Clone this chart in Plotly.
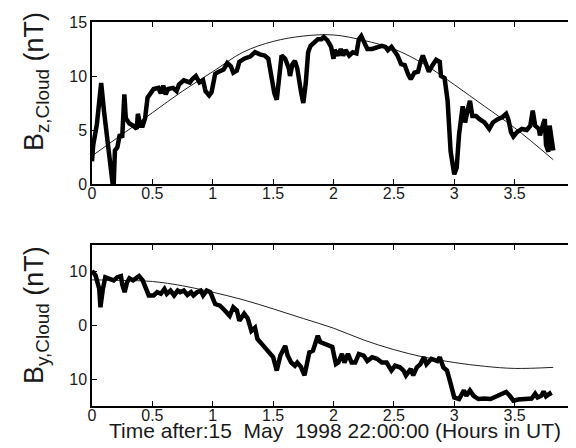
import plotly.graph_objects as go

# ---- Top panel: Bz,Cloud ----
bz_t = [0.00, 0.01, 0.04, 0.076, 0.10, 0.13, 0.16, 0.17, 0.18, 0.19, 0.21, 0.23, 0.25, 0.268, 0.28, 0.31,
        0.34, 0.37, 0.38, 0.40, 0.42, 0.44, 0.46, 0.49, 0.51, 0.55, 0.57, 0.59, 0.61, 0.63, 0.67, 0.70,
        0.72, 0.76, 0.81, 0.83, 0.86, 0.89, 0.92, 0.94, 0.97, 0.99, 1.02, 1.05, 1.09, 1.12, 1.15, 1.17,
        1.20, 1.22, 1.26, 1.31, 1.35, 1.39, 1.43, 1.46, 1.48, 1.51, 1.53, 1.55, 1.57, 1.60, 1.63, 1.64,
        1.66, 1.68, 1.70, 1.73, 1.75, 1.77, 1.79, 1.81, 1.84, 1.87, 1.90, 1.92, 1.95, 1.98, 2.00, 2.01,
        2.04, 2.06, 2.08, 2.10, 2.13, 2.16, 2.19, 2.21, 2.23, 2.25, 2.28, 2.32, 2.36, 2.40, 2.43, 2.45,
        2.48, 2.51, 2.53, 2.56, 2.59, 2.62, 2.64, 2.67, 2.70, 2.72, 2.74, 2.77, 2.79, 2.82, 2.85, 2.88,
        2.89, 2.92, 2.945, 2.97, 3.00, 3.02, 3.04, 3.07, 3.09, 3.11, 3.13, 3.15, 3.18, 3.21, 3.25, 3.29,
        3.32, 3.36, 3.40, 3.43, 3.45, 3.47, 3.49, 3.52, 3.56, 3.60, 3.63, 3.65, 3.67, 3.70, 3.71, 3.74,
        3.75, 3.76, 3.78, 3.79, 3.80, 3.82]
bz_v = [2.1, 3.6, 5.5, 9.35, 6.7, 3.6, 1.2, 0.1, 0.1, 3.1, 3.4, 4.6, 4.3, 8.3, 6.1, 5.6,
        5.4, 5.1, 6.5, 5.4, 5.4, 6.1, 8.0, 8.4, 8.8, 8.9, 8.4, 9.1, 8.3, 8.8, 8.9, 8.6,
        9.2, 9.6, 9.4, 9.7, 10.0, 9.4, 9.6, 8.6, 8.2, 8.5, 10.2, 10.4, 10.6, 11.2, 10.9, 10.3,
        10.5, 11.3, 11.6, 11.8, 12.2, 12.0, 11.9, 11.6, 10.4, 8.4, 7.8, 10.3, 11.9, 11.6, 10.7, 10.0,
        11.1, 11.4, 10.7, 8.6, 7.5, 9.3, 12.2, 12.8, 13.1, 13.4, 13.4, 13.6, 13.3, 12.7, 11.6, 12.4,
        11.9, 12.5, 11.9, 12.4, 11.9, 12.2, 12.1, 13.4, 13.7, 13.1, 12.5, 12.5, 12.7, 12.8, 12.7, 12.4,
        12.7, 12.2, 11.9, 11.1, 11.0, 10.1, 9.7, 10.3, 10.4, 11.3, 11.9, 11.0, 10.4, 11.0, 11.5, 11.3,
        10.0, 9.8, 7.7, 3.0, 0.9, 1.5, 4.6, 7.2, 5.7, 6.8, 7.7, 6.3, 6.3, 6.0, 5.7, 5.1,
        5.7, 6.0, 6.2, 6.5, 5.9, 4.8, 4.4, 4.8, 5.1, 5.0, 5.4, 6.8, 5.4, 5.1, 4.5, 5.7,
        6.0, 3.6, 3.0, 5.4, 4.5, 3.1]

fit_t = [0, 0.25, 0.5, 0.75, 1.0, 1.25, 1.5, 1.75, 2.0, 2.25, 2.5, 2.75, 3.0, 3.25, 3.5, 3.82]
bz_fit = [2.6, 4.6, 6.6, 8.6, 10.4, 12.2, 13.2, 13.7, 13.8, 13.3, 12.5, 11.1, 9.2, 7.2, 5.2, 2.25]

# ---- Bottom panel: By,Cloud ----
by_t = [0.00, 0.03, 0.06, 0.07, 0.09, 0.11, 0.145, 0.18, 0.21, 0.24, 0.25, 0.27, 0.29, 0.31, 0.34, 0.37,
        0.39, 0.42, 0.45, 0.47, 0.51, 0.54, 0.57, 0.60, 0.62, 0.65, 0.68, 0.71, 0.73, 0.76, 0.79, 0.82,
        0.84, 0.87, 0.90, 0.92, 0.95, 0.98, 1.02, 1.06, 1.10, 1.14, 1.17, 1.20, 1.22, 1.26, 1.29, 1.32,
        1.35, 1.37, 1.42, 1.46, 1.50, 1.53, 1.56, 1.60, 1.62, 1.65, 1.68, 1.70, 1.73, 1.76, 1.80, 1.83,
        1.87, 1.89, 1.93, 1.96, 1.99, 2.02, 2.04, 2.07, 2.09, 2.12, 2.15, 2.18, 2.21, 2.25, 2.28, 2.32,
        2.36, 2.40, 2.44, 2.48, 2.51, 2.55, 2.58, 2.60, 2.64, 2.66, 2.69, 2.72, 2.75, 2.77, 2.81, 2.86,
        2.88, 2.91, 2.94, 2.96, 2.99, 3.00, 3.04, 3.08, 3.10, 3.13, 3.16, 3.20, 3.25, 3.30, 3.36, 3.40,
        3.43, 3.46, 3.49, 3.53, 3.58, 3.64, 3.67, 3.69, 3.72, 3.74, 3.76, 3.79, 3.80]
by_v = [10.2, 9.3, 6.8, 3.4, 6.8, 9.0, 8.7, 8.4, 9.0, 9.2, 7.7, 6.2, 8.0, 8.8, 8.4, 8.8,
        9.2, 8.4, 6.8, 5.6, 5.6, 6.2, 5.9, 6.8, 5.9, 6.5, 5.6, 6.5, 6.2, 6.5, 5.7, 6.2,
        5.6, 6.2, 6.5, 5.6, 6.5, 6.2, 4.0, 3.7, 2.8, 1.8, 3.4, 2.8, 0.9, 2.2, 1.3, -1.0,
        -0.4, -2.5, -3.8, -5.0, -5.9, -8.4, -5.6, -3.8, -5.6, -6.9, -7.5, -6.9, -7.7, -9.3, -5.0, -4.7,
        -1.9, -3.1, -3.4, -3.8, -4.0, -7.2, -6.9, -5.3, -6.9, -5.3, -6.9, -6.9, -5.3, -5.6, -6.6, -5.9,
        -6.2, -6.9, -6.9, -8.4, -7.5, -7.8, -8.4, -9.3, -8.1, -9.3, -7.8, -7.2, -5.9, -7.2, -6.2, -6.6,
        -5.9, -7.8, -8.4, -10.0, -12.1, -13.4, -13.7, -12.1, -13.1, -12.1, -13.1, -13.7, -13.6, -13.7, -13.1, -12.7,
        -12.4, -13.1, -14.0, -13.8, -13.7, -13.6, -12.7, -13.4, -13.1, -12.3, -13.2, -12.7, -13.1]

by_fit = [8.5, 8.4, 8.2, 7.4, 6.2, 4.8, 3.1, 1.3, -0.5, -2.7, -4.5, -5.9, -6.9, -7.6, -8.0, -7.8]

x_ticks = [0, 0.5, 1, 1.5, 2, 2.5, 3, 3.5, 4]
bz_ticks = [0, 5, 10, 15]
by_tickvals = [-10, 0, 10]
by_ticktext = ["10", "0", "10"]

FONT = "Liberation Sans, Arial, sans-serif"
TXT = "#1a1a1a"

fig = go.Figure()
fig.add_trace(go.Scatter(x=fit_t, y=bz_fit, mode="lines", line=dict(color="#222", width=1, shape="spline"),
                         xaxis="x", yaxis="y", showlegend=False))
fig.add_trace(go.Scatter(x=bz_t, y=bz_v, mode="lines", line=dict(color="black", width=4.5),
                         xaxis="x", yaxis="y", showlegend=False))
fig.add_trace(go.Scatter(x=fit_t, y=by_fit, mode="lines", line=dict(color="#222", width=1, shape="spline"),
                         xaxis="x2", yaxis="y2", showlegend=False))
fig.add_trace(go.Scatter(x=by_t, y=by_v, mode="lines", line=dict(color="black", width=4.5),
                         xaxis="x2", yaxis="y2", showlegend=False))

axis_common = dict(showline=True, linecolor="black", linewidth=1.5, mirror="ticks", ticks="inside",
                   ticklen=5, tickwidth=1, tickcolor="black", showgrid=False, zeroline=False,
                   ticklabeloverflow="allow",
                   tickfont=dict(family=FONT, size=16, color=TXT))

fig.update_layout(
    width=576, height=448,
    margin=dict(l=84, r=4, t=14, b=50),
    paper_bgcolor="white", plot_bgcolor="white",
    xaxis=dict(domain=[0, 1], range=[0, 4], tickvals=x_ticks, anchor="y", ticklabelstandoff=-6, **axis_common),
    yaxis=dict(domain=[0.5781, 1], range=[0, 15], tickvals=bz_ticks, anchor="x", **axis_common),
    xaxis2=dict(domain=[0, 1], range=[0, 4], tickvals=x_ticks, anchor="y2", ticklabelstandoff=-6, **axis_common),
    yaxis2=dict(domain=[0, 0.4193], range=[-15, 15], tickvals=by_tickvals, ticktext=by_ticktext,
                anchor="x2", **axis_common),
    annotations=[
        dict(text="B<sub>z,Cloud</sub> (nT)", x=0, y=0.807, xref="paper", yref="paper",
             xanchor="center", yanchor="middle", xshift=-56, yshift=14, textangle=-90, showarrow=False,
             font=dict(family=FONT, size=27, color=TXT)),
        dict(text="B<sub>y,Cloud</sub> (nT)", x=0, y=0.211, xref="paper", yref="paper",
             xanchor="center", yanchor="middle", xshift=-56, yshift=10, textangle=-90, showarrow=False,
             font=dict(family=FONT, size=27, color=TXT)),
        dict(text="Time after:15\u00a0\u00a0May\u00a0\u00a01998 22:00:00 (Hours in UT)", x=0.503, y=0,
             xref="paper", yref="paper", xanchor="center", yanchor="top", yshift=-11, showarrow=False,
             font=dict(family=FONT, size=21, color=TXT)),
    ],
)

fig.write_html("out.html")
